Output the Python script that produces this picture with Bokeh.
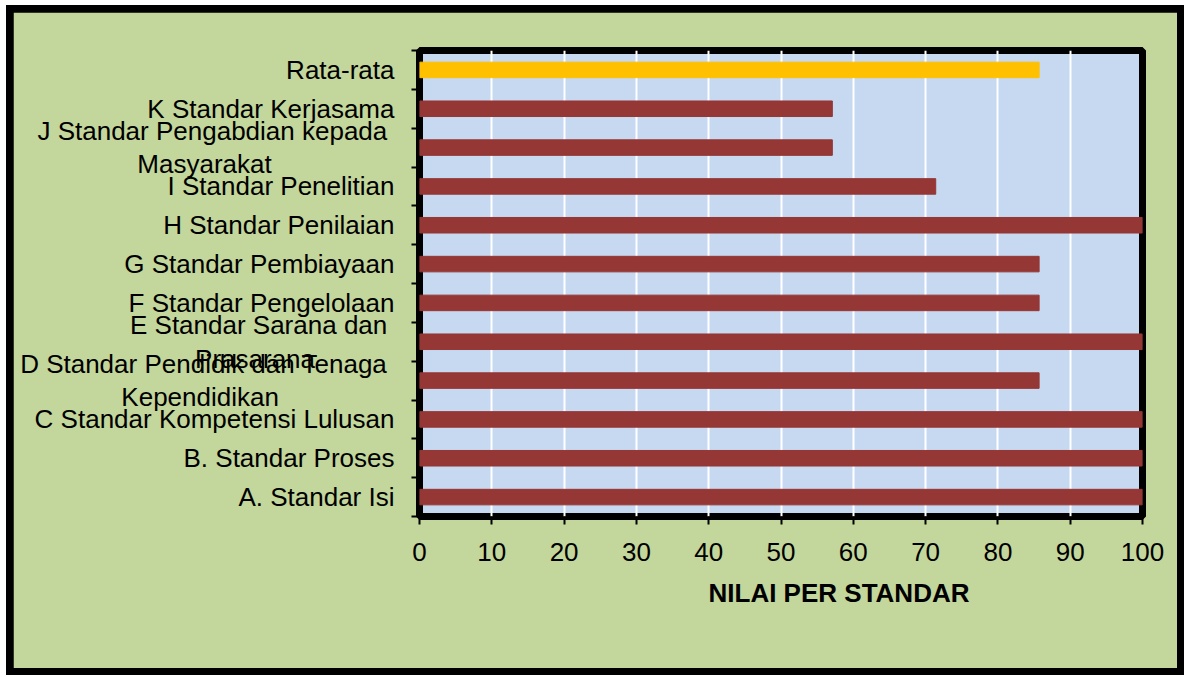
from bokeh.plotting import figure
from bokeh.layouts import column
from bokeh.models import (Range1d, LinearAxis, FixedTicker, ColumnDataSource, Title)
from bokeh.embed import file_html
from bokeh.resources import INLINE

NB = "\u00a0"
# ---- data (bottom to top) ----
labels = [
    "A. Standar Isi",
    "B. Standar Proses",
    "C Standar Kompetensi Lulusan",
    "D Standar Pendidik dan Tenaga \nKependidikan" + NB * 16,
    "E Standar Sarana dan \nPrasarana" + NB * 11,
    "F Standar Pengelolaan",
    "G Standar Pembiayaan",
    "H Standar Penilaian",
    "I Standar Penelitian",
    "J Standar Pengabdian kepada \nMasyarakat" + NB * 17,
    "K Standar Kerjasama",
    "Rata-rata",
]
values = [100, 100, 100, 85.7, 100, 85.7, 85.7, 100, 71.4, 57.1, 57.1, 85.7]
x_ticks = [0, 10, 20, 30, 40, 50, 60, 70, 80, 90, 100]
x_title = "NILAI PER STANDAR"

RED = "#953735"
GOLD = "#FFC000"
n = len(labels)
colors = [GOLD if lab == "Rata-rata" else RED for lab in labels]
centers = [i + 0.5 for i in range(n)]
edges = list(range(n + 1))

FONT = "Liberation Sans"
FS = "26px"

src = ColumnDataSource(dict(y=centers, v=values, c=colors))

p = figure(width=1164, height=656, output_backend="svg", toolbar_location=None,
           y_range=Range1d(0, n), x_range=Range1d(0, 100),
           y_axis_location=None, x_axis_location="below",
           min_border_left=406, min_border_right=35, min_border_top=38, min_border_bottom=152)

p.background_fill_color = "#C6D9F1"
p.border_fill_color = "#C3D69B"
p.outline_line_color = "black"
p.outline_line_width = 7

p.hbar(y="y", right="v", left=0, height=0.4, color="c", source=src)

# x axis
xa = p.xaxis[0]
xa.ticker = FixedTicker(ticks=x_ticks)
xa.axis_line_color = None
xa.major_tick_line_color = "black"
xa.major_tick_line_width = 2
xa.major_tick_out = 8
xa.major_tick_in = 0
xa.minor_tick_line_color = None
xa.major_label_text_font = FONT
xa.major_label_text_font_size = FS
xa.major_label_text_color = "black"
xa.major_label_standoff = 18

p.xgrid.ticker = FixedTicker(ticks=x_ticks)
p.xgrid.grid_line_color = "white"
p.xgrid.grid_line_width = 2
p.ygrid.grid_line_color = None

# category labels, with tick marks between categories (as minor ticks)
ya = LinearAxis(ticker=FixedTicker(ticks=centers, minor_ticks=edges),
                major_label_overrides=dict(zip(centers, labels)),
                axis_line_color=None, major_tick_line_color=None,
                minor_tick_line_color="black", minor_tick_line_width=2,
                minor_tick_out=8, minor_tick_in=0,
                major_label_text_font=FONT, major_label_text_font_size=FS,
                major_label_text_color="black", major_label_standoff=17,
                major_label_text_line_height=1.12)
p.add_layout(ya, "left")

t = Title(text=x_title, align="left", offset=289, text_font=FONT, text_font_size=FS,
          text_font_style="bold", text_color="black", standoff=24)
p.add_layout(t, "below")

layout = column(p, styles={"background-color": "black", "padding": "7px",
                           "margin-left": "6px", "margin-top": "5px"})

open("out.html", "w").write(file_html(layout, INLINE))
